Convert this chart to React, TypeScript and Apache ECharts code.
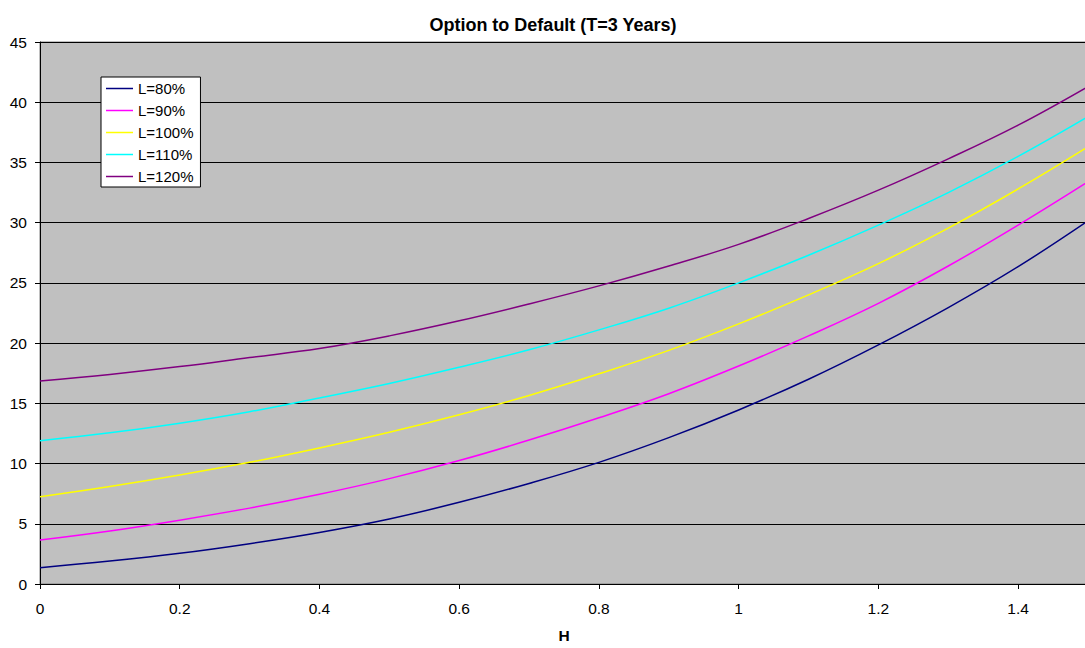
import React, { useEffect, useRef } from "react";
import * as echarts from "echarts";

const hValues = [0, 0.1, 0.2, 0.3, 0.4, 0.5, 0.6, 0.7, 0.8, 0.9, 1.0, 1.1, 1.2, 1.3, 1.4, 1.5];
const seriesNames = ["L=80%", "L=90%", "L=100%", "L=110%", "L=120%"];
const l80 = [1.35, 1.9, 2.55, 3.35, 4.28, 5.4, 6.78, 8.35, 10.1, 12.15, 14.45, 17.0, 19.85, 22.95, 26.35, 30.15];
const l90 = [3.65, 4.4, 5.3, 6.3, 7.45, 8.75, 10.25, 11.95, 13.8, 15.8, 18.1, 20.6, 23.3, 26.4, 29.8, 33.4];
const l100 = [7.25, 8.1, 9.05, 10.1, 11.3, 12.6, 14.05, 15.65, 17.45, 19.4, 21.6, 24.0, 26.6, 29.55, 32.8, 36.3];
const l110 = [11.9, 12.55, 13.35, 14.3, 15.45, 16.65, 18.0, 19.45, 21.1, 22.9, 25.0, 27.3, 29.8, 32.5, 35.5, 38.8];
const l120 = [16.85, 17.4, 18.05, 18.8, 19.55, 20.6, 21.85, 23.25, 24.75, 26.4, 28.2, 30.35, 32.7, 35.3, 38.1, 41.3];
const seriesValues = [l80, l90, l100, l110, l120];
const colors = ["#000080", "#FF00FF", "#FFFF00", "#00FFFF", "#800080"];

const FONT = 'Arial, "Liberation Sans", sans-serif';

export default function App() {
  const ref = useRef<HTMLDivElement>(null);
  useEffect(() => {
    if (!ref.current) return;
    const chart = echarts.init(ref.current, undefined, { renderer: "svg" });
    chart.setOption({
      animation: false,
      backgroundColor: "#ffffff",
      title: {
        text: "Option to Default (T=3 Years)",
        left: "center",
        top: 11,
        textStyle: { fontFamily: FONT, fontSize: 18, fontWeight: "bold", color: "#000" },
      },
      legend: {
        orient: "vertical",
        left: 101,
        top: 77,
        padding: [4, 7, 3, 5],
        icon: "rect",
        itemWidth: 27,
        itemHeight: 1.5,
        itemGap: 7,
        backgroundColor: "#ffffff",
        borderColor: "#000000",
        borderWidth: 1,
        borderRadius: 0,
        textStyle: { fontFamily: FONT, fontSize: 15, color: "#000", lineHeight: 15 },
        data: seriesNames,
      },
      grid: {
        left: 40,
        right: 18,
        top: 42,
        bottom: 61,
        show: true,
        backgroundColor: "#C0C0C0",
        borderColor: "#808080",
        borderWidth: 1,
      },
      xAxis: {
        type: "value",
        min: 0,
        max: 1.5,
        interval: 0.2,
        name: "H",
        nameLocation: "middle",
        nameGap: 43,
        nameTextStyle: { fontFamily: FONT, fontSize: 15.5, fontWeight: "bold", color: "#000" },
        axisLine: { show: true, lineStyle: { color: "#000", width: 1 } },
        axisTick: { show: true, inside: false, length: 5, lineStyle: { color: "#000" } },
        axisLabel: { fontFamily: FONT, fontSize: 15.5, color: "#000", margin: 16, showMaxLabel: false },
        splitLine: { show: false },
      },
      yAxis: {
        type: "value",
        min: 0,
        max: 45,
        interval: 5,
        axisLine: { show: true, lineStyle: { color: "#000", width: 1 } },
        axisTick: { show: true, inside: false, length: 5, lineStyle: { color: "#000" } },
        axisLabel: { fontFamily: FONT, fontSize: 15.5, color: "#000", margin: 13 },
        splitLine: { show: true, lineStyle: { color: "#000", width: 1 } },
      },
      series: seriesNames.map((name, i) => ({
        name,
        type: "line",
        symbol: "none",
        smooth: 0.4,
        color: colors[i],
        itemStyle: { color: colors[i] },
        lineStyle: { color: colors[i], width: 1.5 },
        data: hValues.map((h, j) => [h, seriesValues[i][j]]),
      })),
    });
    return () => chart.dispose();
  }, []);
  return (
    <div style={{ position: "fixed", left: 0, top: 0, width: 1085, height: 648, overflow: "hidden" }}>
      <div ref={ref} style={{ width: 1106, height: 648 }} />
    </div>
  );
}
